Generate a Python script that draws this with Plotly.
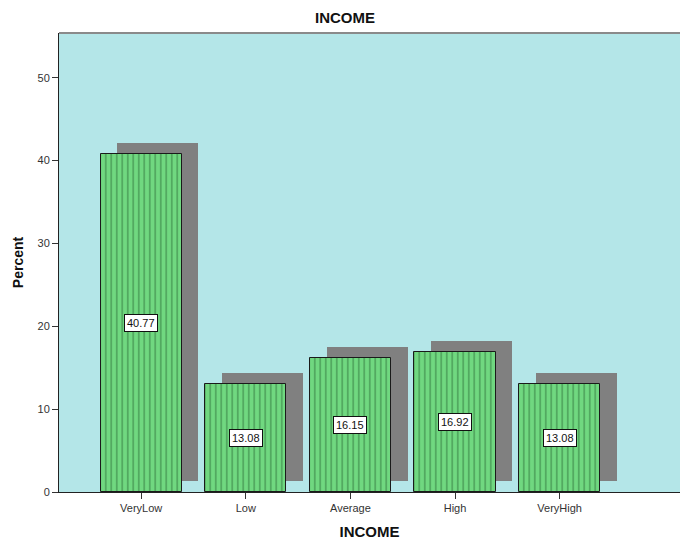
import plotly.graph_objects as go

# Income distribution (percent of respondents)
categories = ["VeryLow", "Low", "Average", "High", "VeryHigh"]
percents = [40.77, 13.08, 16.15, 16.92, 13.08]
y_ticks = [0, 10, 20, 30, 40, 50]

positions = list(range(len(categories)))
bar_width = 0.775
shadow_dx = 0.16
shadow_base = 1.3

fig = go.Figure()

# drop shadow behind each bar
fig.add_trace(go.Bar(
    x=[p + shadow_dx for p in positions],
    y=percents,
    base=shadow_base,
    width=bar_width,
    marker=dict(color="#808080", line=dict(width=0)),
    hoverinfo="skip",
    showlegend=False,
))

# main bars with dotted vertical hatch
fig.add_trace(go.Bar(
    x=positions,
    y=percents,
    width=bar_width,
    marker=dict(
        color="#70d880",
        line=dict(color="#1a1a1a", width=1),
        pattern=dict(shape="|", fgcolor="#2e7038", fgopacity=0.75,
                     size=5.5, solidity=0.2),
    ),
    showlegend=False,
))

# value labels in white boxes at mid-height
for p, v in zip(positions, percents):
    fig.add_annotation(
        x=p, y=v / 2, text=f"{v:.2f}", showarrow=False,
        font=dict(family="Liberation Sans, Arial", size=11, color="#111"),
        bgcolor="white", bordercolor="#111", borderwidth=1, borderpad=2,
    )

# light top border of the plot frame
fig.add_shape(type="line", xref="paper", yref="paper", x0=0, x1=1, y0=1, y1=1,
              line=dict(color="#8a8a8a", width=2))

fig.update_layout(
    width=680, height=540,
    margin=dict(l=59, r=0, t=33, b=48),
    paper_bgcolor="white",
    plot_bgcolor="#b4e6e8",
    bargap=0, barmode="overlay",
    font=dict(family="Liberation Sans, Arial", size=11, color="#333"),
    title=dict(text="<b>INCOME</b>", x=345 / 680, xanchor="center",
               y=1 - 18 / 540, yanchor="middle",
               font=dict(size=15, color="#111")),
    xaxis=dict(
        range=[-0.785, 5.15],
        tickvals=positions, ticktext=categories,
        ticks="outside", ticklen=6, tickcolor="#333",
        showline=True, linecolor="#222", linewidth=1,
        showgrid=False, zeroline=False,
        title=dict(text="<b>INCOME</b>", font=dict(size=15, color="#111"),
                   standoff=14),
    ),
    yaxis=dict(
        range=[0, 55.4],
        tickvals=y_ticks,
        ticks="outside", ticklen=6, tickcolor="#333",
        showline=True, linecolor="#222", linewidth=1,
        showgrid=False, zeroline=False,
        title=dict(text="<b>Percent</b>", font=dict(size=14, color="#111"),
                   standoff=10),
    ),
)

fig.write_html("out.html")
